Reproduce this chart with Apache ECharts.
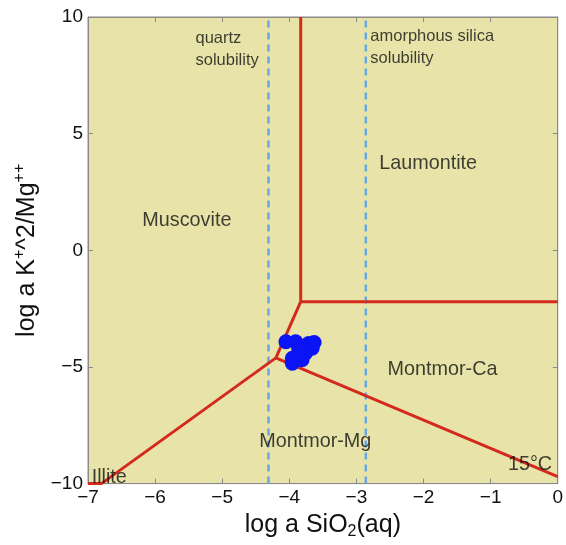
<!DOCTYPE html>
<html><head><meta charset="utf-8">
<script src="https://cdn.jsdelivr.net/npm/echarts@6/dist/echarts.min.js"></script>
<style>html,body{margin:0;padding:0;background:#fff}#c{width:566px;height:545px}</style>
</head><body><div id="c"></div>
<script>
// Axis ticks
const xTicks = [-7, -6, -5, -4, -3, -2, -1, 0];
const yTicks = [-10, -5, 0, 5, 10];

// Phase boundaries (log a SiO2, log a K+^2/Mg++)
const bMuscLaum = [[-3.83, 10], [-3.83, -2.2]];
const bLaumMontCa = [[-3.83, -2.2], [0, -2.2]];
const bMuscMontCa = [[-3.83, -2.2], [-4.20, -4.61]];
const bMuscMontMg = [[-4.20, -4.61], [-6.8, -10], [-7, -10]];
const bMontMgCa = [[-4.20, -4.61], [0, -9.7]];

// Solubility limits
const quartzX = -4.31;
const amorphousX = -2.86;

// Samples
const sampleX = [-4.05, -3.905, -3.71, -3.66, -3.76, -3.955, -3.955, -3.81, -3.86, -3.63, -3.80];
const sampleY = [-3.92, -3.92, -3.99, -4.20, -4.41, -4.63, -4.84, -4.69, -4.22, -3.95, -4.45];

// Annotation texts and anchor (left, middle) in data coords
const annText = ['Muscovite', 'Laumontite', 'Montmor-Ca', 'Montmor-Mg', 'Illite', '15°C'];
const annX = [-6.19, -2.66, -2.536, -4.449, -6.945, -0.742];
const annY = [1.27, 3.73, -5.13, -8.21, -9.73, -9.19];
const noteText = ['quartz\nsolubility', 'amorphous silica\nsolubility'];
const noteX = [-5.398, -2.793];
const noteY = [8.61, 8.68];

const FONT = "'Liberation Sans', Arial, Helvetica, sans-serif";
const chart = echarts.init(document.getElementById('c'));
const minus = v => String(v).replace('-', '\u2212');
const red = '#d42a1e', blue = '#6aa6e0', axisC = '#8a8a8a';

const boxAxis = () => ({ show: true, lineStyle: { color: axisC, width: 1 }, onZero: false });

const option = {
  animation: false,
  textStyle: { fontFamily: FONT },
  grid: { left: 88, right: 6, top: 17, bottom: 56, show: true, backgroundColor: '#e8e4a9', borderColor: axisC, borderWidth: 1 },
  xAxis: [{
    type: 'value', min: xTicks[0], max: xTicks[xTicks.length - 1], interval: 1,
    position: 'bottom',
    name: '{n|log a SiO}{s|2}{n|(aq)}', nameLocation: 'middle', nameGap: 23,
    nameTextStyle: { rich: { n: { fontSize: 25, lineHeight: 30, color: '#111', fontFamily: FONT }, s: { fontSize: 16, verticalAlign: 'bottom', color: '#111', fontFamily: FONT } } },
    axisLine: boxAxis(), splitLine: { show: false },
    axisTick: { inside: true, length: 5, lineStyle: { color: axisC } },
    axisLabel: { fontSize: 19, color: '#111', margin: 5, formatter: minus, fontFamily: FONT }
  }, {
    type: 'value', min: xTicks[0], max: xTicks[xTicks.length - 1], interval: 1,
    position: 'top', axisLine: boxAxis(), splitLine: { show: false },
    axisTick: { inside: true, length: 5, lineStyle: { color: axisC } }, axisLabel: { show: false }
  }],
  yAxis: [{
    type: 'value', min: yTicks[0], max: yTicks[yTicks.length - 1], interval: 5,
    position: 'left',
    name: '{n|log a K}{s|+}{n|^2/Mg}{s|++}', nameLocation: 'middle', nameGap: 42,
    nameTextStyle: { rich: { n: { fontSize: 25, lineHeight: 32, color: '#111', fontFamily: FONT }, s: { fontSize: 16, verticalAlign: 'top', color: '#111', fontFamily: FONT } } },
    axisLine: boxAxis(), splitLine: { show: false },
    axisTick: { inside: true, length: 5, lineStyle: { color: axisC } },
    axisLabel: { fontSize: 19, color: '#111', margin: 5, formatter: minus, fontFamily: FONT }
  }, {
    type: 'value', min: yTicks[0], max: yTicks[yTicks.length - 1], interval: 5,
    position: 'right', axisLine: boxAxis(), splitLine: { show: false },
    axisTick: { inside: true, length: 5, lineStyle: { color: axisC } }, axisLabel: { show: false }
  }],
  series: []
};

const redLine = d => ({ type: 'line', data: d, symbol: 'none', clip: true, z: 3, lineStyle: { color: red, width: 3 } });
[bMuscLaum, bLaumMontCa, bMuscMontCa, bMuscMontMg, bMontMgCa].forEach(d => option.series.push(redLine(d)));
const dashLine = x => ({ type: 'line', data: [[x, yTicks[0]], [x, yTicks[yTicks.length - 1]]], symbol: 'none', z: 2,
  lineStyle: { color: blue, width: 2.5, type: [7, 5] } });
option.series.push(dashLine(quartzX), dashLine(amorphousX));
option.series.push({
  type: 'scatter', z: 5, symbolSize: 15, itemStyle: { color: '#0a14f5', opacity: 1 },
  data: sampleX.map((x, i) => [x, sampleY[i]])
});
option.series.push({
  type: 'scatter', z: 6, symbolSize: 0, silent: true,
  data: annText.map((t, i) => ({ value: [annX[i], annY[i]], name: t })),
  label: { show: true, position: [0, 0], align: 'left', verticalAlign: 'middle', formatter: p => p.name,
    fontSize: 19.8, color: '#111', fontFamily: FONT }
});
option.series.push({
  type: 'scatter', z: 6, symbolSize: 0, silent: true,
  data: noteText.map((t, i) => ({ value: [noteX[i], noteY[i]], name: t })),
  label: { show: true, position: [0, 0], align: 'left', verticalAlign: 'middle', formatter: p => p.name,
    fontSize: 16.5, lineHeight: 21.7, color: '#111', fontFamily: FONT }
});
chart.setOption(option);
</script></body></html>
